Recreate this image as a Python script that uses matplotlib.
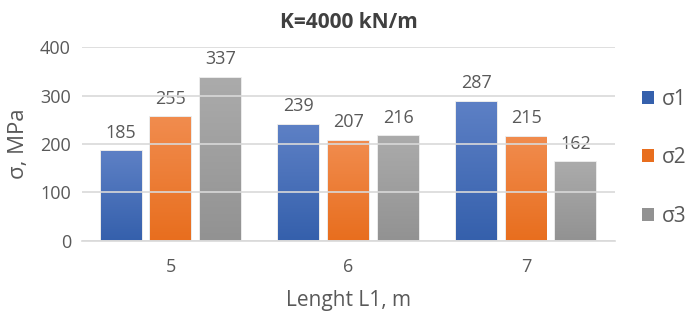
import numpy as np
import matplotlib.pyplot as plt
from matplotlib.colors import LinearSegmentedColormap

plt.rcParams['font.family'] = ['Open Sans', 'DejaVu Sans']

lengths = [5, 6, 7]
sigma1 = [185, 239, 287]
sigma2 = [255, 207, 215]
sigma3 = [337, 216, 162]
series_names = ['σ1', 'σ2', 'σ3']

# top / bottom shades of the gradient fill for each series
shades = [('#5d80c5', '#3560ac'), ('#f18c4e', '#e86e1e'), ('#ababab', '#929292')]

fig = plt.figure(figsize=(6.9, 3.2), dpi=100)
ax = fig.add_axes([0.119, 0.247, 0.772, 0.606])

width = 0.23
step = 0.28
text_col = '#595959'

for i, (vals, name, (top, bot)) in enumerate(zip([sigma1, sigma2, sigma3], series_names, shades)):
    xs = np.array(lengths) + (i - 1) * step
    bars = ax.bar(xs, vals, width, color=bot, label=name, zorder=2,
                  edgecolor='#e6e6e6', linewidth=1.2)
    cmap = LinearSegmentedColormap.from_list(name, [bot, top])
    for b in bars:
        x0, y0 = b.get_x(), b.get_y()
        w, h = b.get_width(), b.get_height()
        im = ax.imshow(np.linspace(0, 1, 100).reshape(-1, 1), cmap=cmap, origin='lower',
                       extent=[x0, x0 + w, y0, y0 + h], aspect='auto', zorder=2.1)
        im.set_clip_path(b)
    for x, v in zip(xs, vals):
        ax.annotate(str(v), (x, v), xytext=(0, 7), textcoords='offset points',
                    ha='center', va='bottom', fontsize=13, color=text_col, zorder=1)

ax.set_xlim(4.5, 7.5)
ax.set_ylim(0, 400)
ax.set_yticks([0, 100, 200, 300, 400])
ax.set_xticks(lengths)
ax.yaxis.grid(True, color='#d9d9d9', linewidth=1.2, zorder=1.5)
ax.set_axisbelow(False)
for s in ['top', 'right', 'left']:
    ax.spines[s].set_visible(False)
ax.spines['bottom'].set_color('#d9d9d9')
ax.spines['bottom'].set_linewidth(1.2)
ax.tick_params(length=0, labelsize=13, labelcolor=text_col, pad=8)
ax.tick_params(axis='x', pad=12)

ax.set_title('K=4000 kN/m', fontsize=15, fontweight='bold', color='#404040', pad=14)
ax.set_xlabel('Lenght L1, m', fontsize=15, color=text_col, labelpad=10)
ax.set_ylabel('σ, MPa', fontsize=16, color=text_col, labelpad=8)

leg = ax.legend(loc='center left', bbox_to_anchor=(1.015, 0.43), frameon=False,
                fontsize=15, handlelength=0.6, handleheight=0.6, handletextpad=0.4,
                labelspacing=1.8, labelcolor=text_col)
for h in leg.legend_handles:
    h.set_edgecolor('none')

fig.savefig('out.png', dpi=100)
